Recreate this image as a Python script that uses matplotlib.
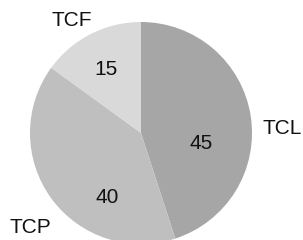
import matplotlib
matplotlib.use("Agg")
import matplotlib.pyplot as plt

categories = ["TCL", "TCP", "TCF"]
values = [45, 40, 15]
colors = ["#a6a6a6", "#bfbfbf", "#d9d9d9"]

# label layout (pixel coords, y up; x centre, baseline)
label_pos = [(282, 106), (30, 6.7), (71.7, 214)]
value_pos = [(201, 90.7), (107.5, 36.7), (106, 165)]

fig = plt.figure(figsize=(3.03, 2.40), dpi=100)
ax = fig.add_axes([0, 0, 1, 1])

ax.pie(values, colors=colors, startangle=90, counterclock=False,
       center=(141, 107), radius=111, frame=True,
       wedgeprops=dict(linewidth=0))
ax.set_xlim(0, 303)
ax.set_ylim(0, 240)
ax.set_aspect("equal")
ax.axis("off")

fs = 15
for c, (x, y) in zip(categories, label_pos):
    ax.text(x, y, c, ha="center", va="baseline", fontsize=fs,
            family="Liberation Sans", color="#111111")
for v, (x, y) in zip(values, value_pos):
    ax.text(x, y, str(v), ha="center", va="baseline", fontsize=fs,
            family="Liberation Sans", color="#111111")

fig.savefig("out.png", dpi=100)
